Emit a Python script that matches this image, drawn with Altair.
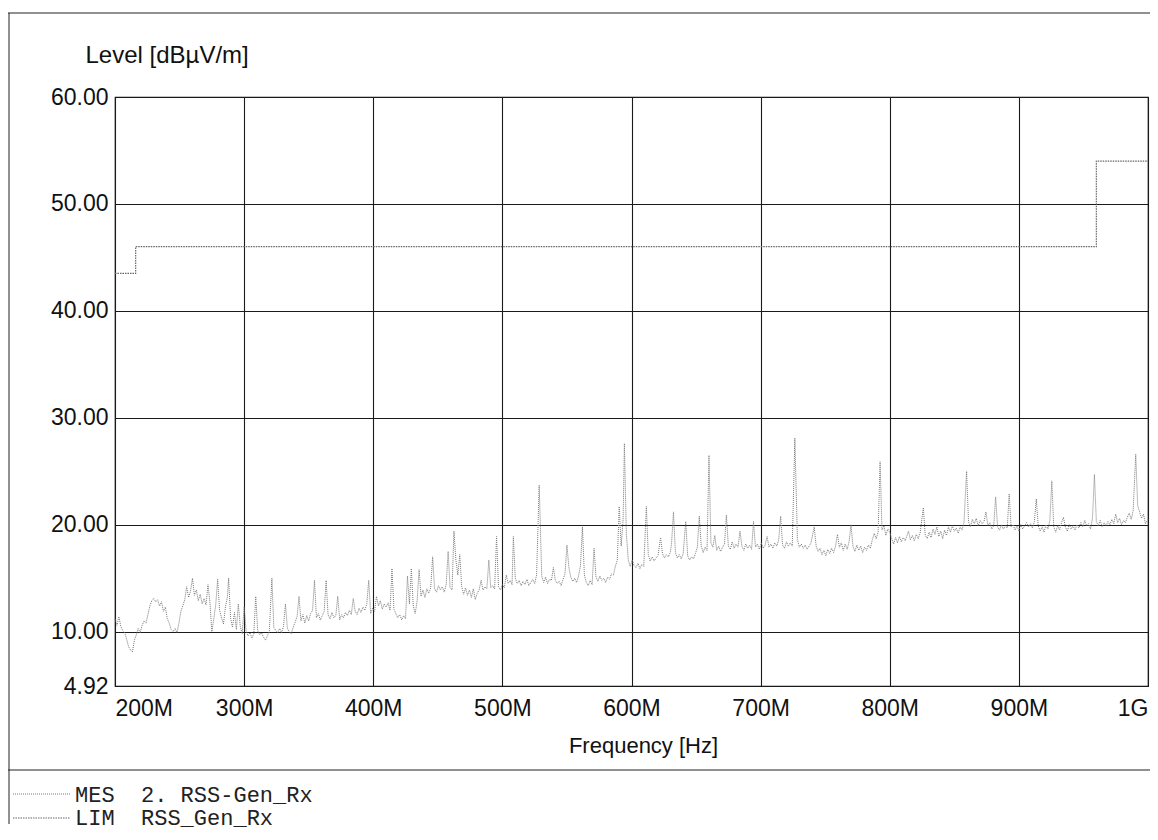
import altair as alt
import pandas as pd

# ---- measured trace (MES 2. RSS-Gen_Rx), frequency in MHz, level in dBuV/m ----
freq_mhz = [
    200, 201.5, 203, 204.5, 206, 207.5, 209, 210.5, 212, 213.5, 215, 216.5, 218, 219.5, 221, 222.5, 224, 225.5,
    227, 228.5, 230, 231.5, 233, 234.5, 236, 237.5, 239, 240.5, 242, 243.5, 245, 246.5, 248, 249.5, 251, 252.5,
    254, 255.5, 257, 258.5, 260, 261.5, 263, 264.5, 266, 267.5, 269, 270.5, 272, 273.5, 275, 276.5, 278, 279.5,
    281, 282.5, 284, 285.5, 287, 288, 289.5, 291, 292.5, 294, 295.5, 297, 298.5, 300, 301.5, 303, 304.5, 306,
    307.5, 309, 310.5, 312, 313.5, 315, 316.5, 318, 319.5, 321.5, 323, 324.5, 326, 327.5, 329, 330.5, 332, 333.5,
    335, 336.5, 338, 339.5, 341, 342.5, 344, 345.5, 347, 348.5, 350, 351.5, 353, 354.5, 356, 357.5, 359, 360.5,
    362, 363.5, 365, 366.5, 368, 369.5, 371, 372.5, 374, 375.5, 377, 378.5, 380, 381.5, 383, 384.5, 386, 387.5,
    389, 390.5, 392, 393.5, 395, 396.5, 398, 399.5, 401, 402.5, 404, 405.5, 407, 408.5, 410, 411.5, 413, 414.5,
    416, 417.5, 419, 420.5, 422, 423.5, 425, 426.5, 428, 429.5, 431, 432.5, 434, 435.5, 437, 438.5, 440, 441.5,
    443, 444.5, 446, 447.5, 449, 450.5, 452, 453.5, 455, 456.5, 458, 459.5, 461, 462.5, 464, 465.5, 467, 468.5,
    470, 471.5, 473, 474.5, 476, 477.5, 479, 480.5, 482, 483.5, 485, 486.5, 488, 489.5, 491, 492.5, 494, 495.5,
    497, 498.5, 500, 501.5, 503, 504.5, 506, 507.5, 508.5, 510, 511.5, 513, 514.5, 516, 517.5, 519, 520.5, 522,
    523.5, 525, 526.5, 528.5, 530.5, 532, 533.5, 535, 536.5, 538, 539.5, 541, 542.5, 544, 545.5, 547, 548.5, 550,
    551.5, 553, 554.5, 556, 557.5, 559, 560.5, 562, 563.5, 565, 566.5, 568, 569.5, 571, 572.5, 574, 575.5, 577,
    578.5, 580, 581.5, 583, 584.5, 586, 587.5, 589, 590.5, 592, 593.5, 594.5, 596, 597.5, 599, 600.5, 602, 603.5,
    605, 606.5, 608, 609.5, 611.5, 613, 614.5, 616, 617.5, 619, 620.5, 622.5, 624, 625.5, 627, 628.5, 630, 631,
    632.5, 634, 635.5, 637, 638.5, 640, 642, 643.5, 645, 646.5, 648, 649.5, 651, 652.5, 654, 655.5, 657, 658.5,
    660, 661.5, 663, 664.5, 666, 667.5, 669, 670.5, 672, 673.5, 675, 676.5, 678, 679.5, 681, 682.5, 684, 685.5,
    687, 688.5, 690, 691.5, 693, 694.5, 696, 697.5, 699, 700.5, 702, 703.5, 705, 706.5, 708, 709.5, 711, 712.5,
    714, 715.5, 717, 718.5, 720, 721.5, 723, 724.5, 726.5, 728.5, 730, 731.5, 733, 734.5, 736, 737.5, 739, 741.5,
    743, 744.5, 746, 747.5, 749, 750.5, 752, 753.5, 755, 756.5, 758, 759.5, 761, 762.5, 764, 765.5, 767, 768.5,
    770, 771.5, 773, 774.5, 776, 777.5, 779, 780.5, 782, 783.5, 785, 786.5, 788, 789.5, 791, 792.5, 794, 795.5,
    797, 798.5, 800, 801.5, 803, 804.5, 806, 807.5, 809, 810.5, 812, 814.5, 816, 817.5, 819, 820.5, 822, 823.5,
    826, 827.5, 829, 830.5, 832, 833.5, 835, 836.5, 838, 839.5, 841, 842.5, 844, 845.5, 847, 848.5, 850, 851.5,
    853, 854.5, 856, 857.5, 859.5, 861, 862.5, 864, 865.5, 867, 868.5, 870, 871.5, 873, 874.5, 876, 877.5, 879,
    880.5, 882, 883.5, 885, 886.5, 888, 889.5, 891, 892.5, 894, 895.5, 897, 898.5, 900, 901.5, 903, 904.5, 906,
    907.5, 909, 910.5, 912, 913.5, 915, 916.5, 918, 919.5, 921, 922.5, 924, 925.5, 927, 928.5, 930, 931.5, 933,
    934.5, 936, 937.5, 939, 940.5, 942, 943.5, 945, 946.5, 948, 949.5, 951, 952.5, 954, 955.5, 957, 958.5, 960,
    961.5, 963, 964.5, 966, 967.5, 969, 970.5, 972, 973.5, 975, 976.5, 978, 979.5, 981, 982.5, 984, 985.5, 987,
    988.5, 990.5, 992, 993.5, 995, 996.5, 998, 1000,
]
level_dbuv = [
    11.2, 10.6, 11.4, 10.5, 10.1, 9.9, 9.3, 8.6, 8.3, 8.1, 9.2, 9.7, 10.3, 9.9, 10.6, 11.0, 10.8, 11.6,
    12.4, 12.9, 13.1, 12.8, 13.0, 12.4, 12.8, 11.9, 12.3, 11.2, 10.8, 10.2, 10.0, 10.3, 9.9, 10.8, 11.9, 12.4,
    13.0, 14.2, 13.2, 13.8, 15.0, 13.4, 13.9, 12.9, 13.5, 12.6, 13.1, 12.5, 14.4, 12.8, 10.0, 11.2, 12.5, 14.9,
    12.0, 11.3, 10.7, 12.3, 13.2, 15.0, 11.3, 10.4, 11.8, 10.2, 12.6, 10.5, 9.8, 12.3, 10.1, 9.6, 9.9, 9.4,
    9.8, 13.3, 10.1, 9.7, 9.9, 9.5, 9.2, 9.6, 10.0, 15.0, 10.4, 10.1, 9.9, 10.3, 9.9, 10.5, 12.6, 10.3,
    10.0, 9.8, 10.4, 10.9, 11.4, 13.3, 11.0, 11.6, 10.8, 11.5, 11.0, 11.7, 12.0, 14.8, 11.3, 11.7, 11.1, 11.5,
    11.9, 14.8, 11.6, 11.2, 11.8, 11.3, 11.5, 13.3, 11.1, 11.6, 11.3, 11.8, 11.5, 12.0, 11.6, 13.1, 11.9, 11.6,
    12.2, 11.8, 12.3, 12.0, 12.6, 14.8, 11.7, 12.2, 11.9, 13.3, 12.4, 12.9, 12.1, 12.6, 12.3, 12.7, 12.0, 15.9,
    12.1, 11.7, 11.3, 11.6, 11.1, 11.5, 11.2, 15.2, 12.6, 15.9, 12.4, 11.7, 12.9, 15.8, 13.3, 13.9, 13.2, 14.0,
    13.6, 14.1, 17.0, 14.0, 13.7, 14.3, 13.9, 14.2, 13.7, 14.4, 17.5, 14.1, 13.9, 19.4, 16.7, 15.3, 17.2, 14.2,
    13.5, 14.1, 13.4, 13.9, 13.2, 14.0, 13.0, 13.6, 13.9, 14.8, 13.9, 14.2, 14.0, 16.7, 14.1, 14.3, 14.0, 18.9,
    14.2, 13.9, 14.4, 14.1, 15.3, 14.5, 14.8, 14.4, 18.9, 15.0, 14.5, 14.8, 14.3, 14.7, 14.4, 14.9, 14.3, 14.6,
    14.9, 14.5, 15.3, 23.7, 15.2, 14.6, 15.1, 14.5, 14.9, 14.8, 16.0, 14.8, 14.5, 14.7, 14.3, 14.9, 15.4, 18.1,
    16.0, 15.1, 14.7, 15.0, 14.6, 15.2, 16.2, 19.8, 15.3, 14.6, 14.3, 14.8, 14.4, 17.8, 15.1, 14.7, 15.2, 14.8,
    15.0, 14.6, 15.1, 14.9, 15.4, 15.3, 16.1, 16.7, 21.7, 18.0, 20.5, 27.6, 19.2, 16.7, 16.1, 16.7, 16.2, 16.0,
    16.4, 15.9, 16.3, 16.1, 21.7, 17.2, 16.6, 17.0, 16.6, 16.9, 17.1, 18.8, 17.3, 16.9, 17.2, 17.0, 17.4, 18.2,
    21.2, 17.4, 16.9, 17.2, 16.8, 17.3, 20.3, 17.1, 16.7, 17.0, 16.8, 17.3, 17.9, 20.8, 18.0, 17.4, 17.9, 17.6,
    26.5, 18.3, 17.9, 19.0, 17.6, 18.0, 17.5, 17.9, 18.2, 20.9, 18.0, 17.7, 18.4, 17.8, 18.2, 17.9, 19.4, 18.0,
    17.6, 18.2, 17.8, 18.1, 17.7, 20.3, 17.9, 18.2, 17.7, 18.3, 17.8, 18.1, 18.9, 17.9, 18.2, 17.8, 18.3, 18.0,
    18.6, 20.8, 18.1, 17.8, 18.4, 18.0, 18.3, 18.0, 28.1, 18.6, 17.9, 18.2, 17.8, 18.1, 17.7, 18.0, 18.3, 19.8,
    18.0, 17.5, 17.8, 17.2, 17.6, 17.1, 17.7, 17.3, 17.8, 17.4, 18.0, 19.1, 17.9, 18.3, 17.6, 18.2, 17.7, 18.4,
    20.0, 18.0, 17.5, 18.1, 17.6, 18.0, 17.4, 17.9, 17.6, 18.1, 17.8, 18.6, 19.2, 18.7, 19.3, 25.9, 19.5, 19.9,
    19.0, 19.6, 19.3, 18.7, 18.2, 18.8, 18.3, 18.9, 18.4, 18.8, 18.5, 19.4, 18.6, 19.0, 18.5, 19.1, 18.7, 19.2,
    21.6, 19.0, 18.7, 19.3, 18.8, 19.6, 19.1, 19.8, 18.9, 19.4, 18.7, 19.5, 19.0, 19.8, 19.3, 19.9, 19.4, 19.7,
    19.2, 19.8, 19.5, 20.2, 25.0, 20.3, 19.8, 20.5, 20.1, 20.6, 19.9, 20.4, 20.1, 20.3, 21.2, 19.9, 20.2, 19.6,
    19.9, 22.6, 19.8, 19.5, 20.0, 19.6, 19.9, 19.7, 22.9, 19.8, 20.0, 19.5, 19.9, 19.4, 20.0, 19.6, 19.9, 20.2,
    19.8, 20.1, 19.7, 20.3, 22.4, 19.9, 19.4, 19.8, 19.3, 20.0, 19.6, 20.4, 24.1, 19.8, 19.3, 19.9, 19.5, 20.2,
    20.7, 19.8, 19.4, 20.0, 19.6, 19.9, 19.5, 20.0, 19.7, 20.2, 19.8, 20.4, 19.9, 20.1, 19.6, 20.6, 24.7, 20.3,
    19.9, 20.4, 19.8, 20.2, 19.9, 20.3, 20.0, 20.5, 20.1, 21.0, 20.2, 20.6, 20.0, 20.4, 20.2, 20.7, 21.1, 20.5,
    21.3, 26.6, 21.8, 21.2, 20.6, 21.0, 20.1, 20.5,
]

# ---- limit line (LIM RSS_Gen_Rx) ----
limit_freq_mhz = [200, 216, 216, 960, 960, 1000]
limit_level_dbuv = [43.5, 43.5, 46.0, 46.0, 54.0, 54.0]

# ---- axes ----
x_ticks = [200, 300, 400, 500, 600, 700, 800, 900, 1000]
y_ticks = [4.92, 10, 20, 30, 40, 50, 60]
x_domain = [200, 1000]
y_domain = [4.92, 60]

# ---- legend text ----
legend_mes = "MES\u00a0\u00a02.\u00a0RSS-Gen_Rx"
legend_lim = "LIM\u00a0\u00a0RSS_Gen_Rx"

W, H = 1033, 589
FONT = "Liberation Sans"
MONO = "Liberation Mono"
TRACE = "#7a7a7a"

meas = pd.DataFrame({"f": freq_mhz[:len(level_dbuv)], "lvl": level_dbuv[:len(freq_mhz)]})
meas["i"] = range(len(meas))
lim = pd.DataFrame({"f": limit_freq_mhz, "lvl": limit_level_dbuv, "i": range(len(limit_freq_mhz))})

x_enc = alt.X(
    "f:Q",
    scale=alt.Scale(domain=x_domain, nice=False, zero=False),
    axis=alt.Axis(
        values=x_ticks,
        labelExpr="datum.value >= 1000 ? '1G' : datum.value + 'M'",
        labelFlush=True,
        labelFont=FONT, labelFontSize=23, labelColor="#111", labelPadding=11,
        ticks=False, domain=False,
        grid=True, gridColor="#1a1a1a", gridWidth=1.1,
        title="Frequency [Hz]", titleFont=FONT, titleFontSize=22, titleFontWeight="normal",
        titleColor="#111", titleBaseline="alphabetic", titleY=66, titleX=528, titleAlign="center",
    ),
)
y_enc = alt.Y(
    "lvl:Q",
    scale=alt.Scale(domain=y_domain, nice=False, zero=False),
    axis=alt.Axis(
        values=y_ticks, format=".2f",
        labelFont=FONT, labelFontSize=23, labelColor="#111", labelPadding=7,
        ticks=False, domain=False,
        grid=True, gridColor="#1a1a1a", gridWidth=1.1,
        title="Level [dB\u00b5V/m]", titleFont=FONT, titleFontSize=24, titleFontWeight="normal",
        titleColor="#111", titleAngle=0, titleAlign="left", titleBaseline="alphabetic",
        titleX=-30, titleY=-35,
    ),
)

meas_line = alt.Chart(meas).mark_line(
    color=TRACE, strokeWidth=1, strokeDash=[1, 1], interpolate="linear"
).encode(x=x_enc, y=y_enc, order="i:Q")

lim_line = alt.Chart(lim).mark_line(
    color="#666", strokeWidth=1.2, strokeDash=[1.5, 1]
).encode(x="f:Q", y="lvl:Q", order="i:Q")

one = pd.DataFrame({"k": [0]})
frame_color = "#222"
top_rule = alt.Chart(one).mark_rule(color=frame_color, strokeWidth=1).encode(
    x=alt.value(-107), x2=alt.value(1035), y=alt.value(-84))
left_rule = alt.Chart(one).mark_rule(color=frame_color, strokeWidth=1).encode(
    x=alt.value(-106), y=alt.value(-84), y2=alt.value(727))
divider = alt.Chart(one).mark_rule(color=frame_color, strokeWidth=1.2).encode(
    x=alt.value(-107), x2=alt.value(1035), y=alt.value(673))

leg_mes_line = alt.Chart(one).mark_rule(color=TRACE, strokeWidth=1, strokeDash=[1, 1]).encode(
    x=alt.value(-102), x2=alt.value(-45), y=alt.value(697))
leg_lim_line = alt.Chart(one).mark_rule(color="#666", strokeWidth=1, strokeDash=[1.5, 1]).encode(
    x=alt.value(-102), x2=alt.value(-45), y=alt.value(721))
leg_mes_text = alt.Chart(one).mark_text(
    text=legend_mes, font=MONO, fontSize=22, color="#222", align="left", baseline="middle"
).encode(x=alt.value(-40), y=alt.value(698))
leg_lim_text = alt.Chart(one).mark_text(
    text=legend_lim, font=MONO, fontSize=22, color="#222", align="left", baseline="middle"
).encode(x=alt.value(-40), y=alt.value(721))

chart = alt.layer(
    lim_line, meas_line, top_rule, left_rule, divider,
    leg_mes_line, leg_lim_line, leg_mes_text, leg_lim_text,
).properties(
    width=W, height=H,
    autosize=alt.AutoSizeParams(type="none"),
    padding={"left": 107, "top": 89, "right": 2, "bottom": 146},
    background="white",
).configure_view(stroke="#111", strokeWidth=1.2)

chart.save("out.html", embed_options={"renderer": "svg", "actions": False})
